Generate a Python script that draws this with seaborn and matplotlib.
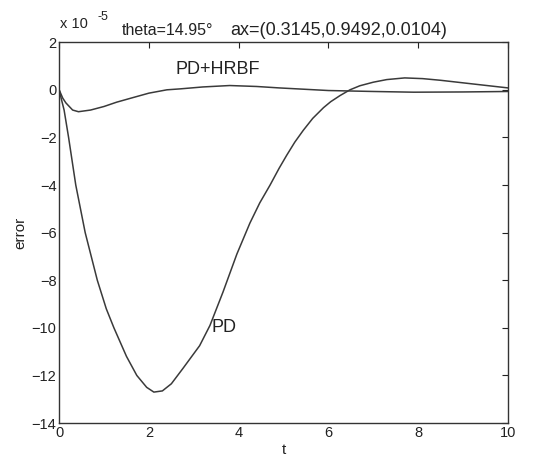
import numpy as np
import pandas as pd
import seaborn as sns
import matplotlib.pyplot as plt

# error values in units of 1e-5
pd_t = [0, 0.05, 0.11, 0.21, 0.37, 0.58, 0.85, 1.05, 1.22, 1.5, 1.73, 1.95, 2.11, 2.3,
        2.5, 2.76, 3.13, 3.36, 3.65, 3.96, 4.25, 4.47, 4.7, 4.9, 5.07, 5.25, 5.44,
        5.65, 5.89, 6.05, 6.26, 6.48, 6.7, 7.0, 7.3, 7.7, 8.1, 8.5, 9.2, 10]
pd_err = [0, -0.4, -0.85, -2.0, -4.0, -6.0, -8.0, -9.2, -10.0, -11.2, -12.0, -12.5, -12.7,
          -12.65, -12.35, -11.7, -10.75, -9.9, -8.5, -6.9, -5.6, -4.75, -4.0, -3.3,
          -2.75, -2.2, -1.7, -1.2, -0.75, -0.5, -0.24, 0.0, 0.17, 0.32, 0.43, 0.5,
          0.47, 0.4, 0.25, 0.08]

hrbf_t = [0, 0.08, 0.15, 0.3, 0.43, 0.7, 1.0, 1.28, 1.6, 2.0, 2.4, 2.7, 3.2, 3.8,
          4.4, 4.9, 5.5, 6.0, 7.0, 7.9, 9.0, 10]
hrbf_err = [0, -0.35, -0.55, -0.85, -0.92, -0.85, -0.7, -0.52, -0.35, -0.14, 0.0,
            0.04, 0.12, 0.18, 0.14, 0.08, 0.02, -0.03, -0.07, -0.1, -0.09, -0.07]

df = pd.concat([
    pd.DataFrame({"t": pd_t, "error": pd_err, "ctrl": "PD"}),
    pd.DataFrame({"t": hrbf_t, "error": hrbf_err, "ctrl": "PD+HRBF"}),
])

sns.set_style("white")
plt.rcParams["font.family"] = ["Liberation Sans", "DejaVu Sans"]

fig = plt.figure(figsize=(5.33, 4.69), dpi=100)
ax = fig.add_axes([0.111, 0.098, 0.842, 0.812])

line_col = "#3a3a3a"
sns.lineplot(data=df, x="t", y="error", hue="ctrl", units="ctrl", estimator=None,
             palette={"PD": line_col, "PD+HRBF": line_col}, linewidth=1.1,
             legend=False, ax=ax)

ax.set_xlim(0, 10)
ax.set_ylim(-14, 2)
ax.set_xticks(np.arange(0, 11, 2))
ax.set_yticks(np.arange(-14, 3, 2))
ax.tick_params(direction="in", top=True, right=True, length=4, width=0.8,
               labelsize=10.5, colors="#222222", pad=2)
for s in ax.spines.values():
    s.set_color("#333333")
    s.set_linewidth(1.0)

ax.set_xlabel("t", fontsize=11, color="#222222", labelpad=2)
ax.set_ylabel("error", fontsize=11, color="#222222", labelpad=3)

ax.text(2.6, 0.5, "PD+HRBF", fontsize=13, color="#222222", ha="left", va="bottom")
ax.text(3.4, -10.0, "PD", fontsize=13, color="#222222", ha="left", va="center")

# MATLAB style exponent and title line above the axes
fig.text(0.112, 0.94, "x 10", fontsize=10.5, color="#222222", ha="left", va="baseline")
fig.text(0.182, 0.958, "-5", fontsize=9, color="#222222", ha="left", va="baseline")
fig.text(0.229, 0.925, "theta=14.95°", fontsize=11.5, color="#222222", ha="left",
         va="baseline")
fig.text(0.432, 0.925, "ax=(0.3145,0.9492,0.0104)", fontsize=13, color="#222222",
         ha="left", va="baseline")

fig.savefig("out.png", dpi=100)
plt.close(fig)
